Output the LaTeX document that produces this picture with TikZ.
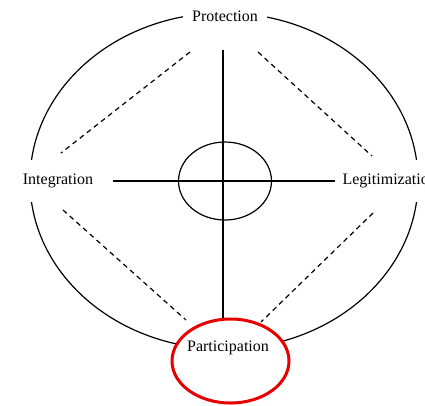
\documentclass[tikz,border=0pt]{standalone}
\usepackage{fontspec}
\setmainfont{Liberation Serif}
\usepackage{tikz}
\usetikzlibrary{shapes.geometric, positioning, calc}
\definecolor{PartRed}{RGB}{230, 0, 0}

\begin{document}
\begin{tikzpicture}[x=1pt, y=-1pt, line width=1.2pt,
    font=\fontsize{16}{19}\selectfont,
    label/.style={fill=white, inner sep=3pt},
    side/.style={label, inner ysep=14pt},
    link/.style={dash pattern=on 5pt off 4pt}]
    \useasboundingbox (0,0) rectangle (425,405);

    % outer ring
    \draw (224,181) ellipse [x radius=194, y radius=168];

    % centre ring
    \node (hub) [ellipse, draw, minimum width=93pt, minimum height=78pt, inner sep=0pt] at (225,181) {};

    % labels round the ring
    \node (prot) [label, inner xsep=9pt] at (225,16) {Protection};
    \node (integ) [side] at (58,181) {Integration};
    \node (legit) [side, anchor=west] at (339,181) {Legitimization};

    % Participation (highlighted)
    \node (part) [ellipse, draw=PartRed, line width=3pt, fill=white,
        minimum width=117pt, minimum height=84pt, inner sep=0pt] at (230.5,361) {};
    \node (partlab) at (228,348) {Participation};

    % axes
    \coordinate (axtop) at (223,50);
    \draw (axtop) -- (axtop |- part.north);
    \draw[shorten <=16pt, shorten >=4pt] (integ.east) -- (legit.west);

    % dashed links
    \coordinate (tlA) at (190,52);  \coordinate (tlB) at (61,153);
    \coordinate (trA) at (258,52);  \coordinate (trB) at (372,156);
    \coordinate (blA) at (63,210);  \coordinate (blB) at (186,320);
    \coordinate (brA) at (373,213); \coordinate (brB) at (261,322);
    \draw[link] (tlA) -- (tlB);
    \draw[link] (trA) -- (trB);
    \draw[link] (blA) -- (blB);
    \draw[link] (brA) -- (brB);
\end{tikzpicture}
\end{document}
